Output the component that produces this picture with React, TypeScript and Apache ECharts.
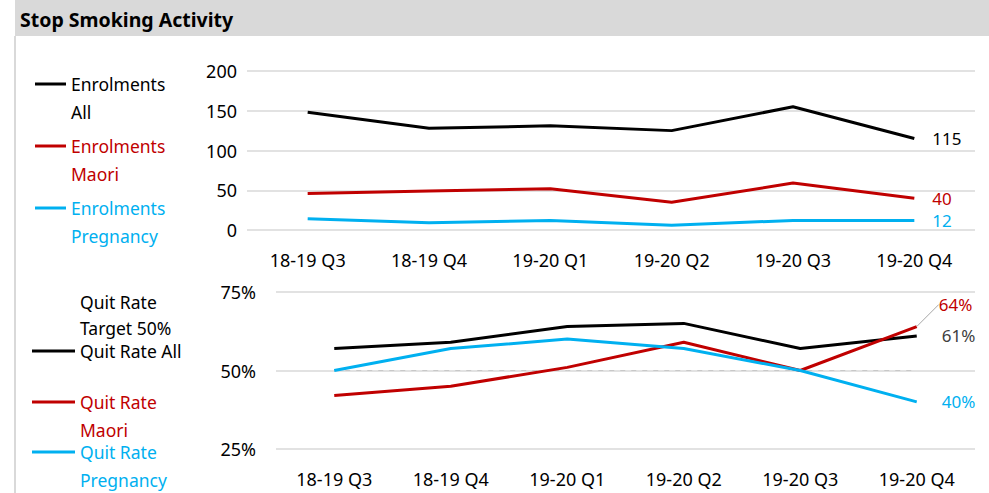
import React, { useEffect, useRef } from "react";
import * as echarts from "echarts";

const categories = ["18-19 Q3", "18-19 Q4", "19-20 Q1", "19-20 Q2", "19-20 Q3", "19-20 Q4"];
const enrolAll = [148, 128, 131, 125, 155, 115];
const enrolMaori = [46, 49, 52, 35, 59, 40];
const enrolPreg = [14, 9, 12, 6, 12, 12];
const quitTarget = [50, 50, 50, 50, 50, 50];
const quitAll = [57, 59, 64, 65, 57, 61];
const quitMaori = [42, 45, 51, 59, 50, 64];
const quitPreg = [50, 57, 60, 57, 50, 40];
const enrolTicks = { min: 0, max: 200, interval: 50 };
const quitTicks = { min: 25, max: 75, interval: 25 };

const FONT = "Noto Sans";
const BLACK = "#000000";
const RED = "#c00000";
const BLUE = "#00b0f0";
const GRID = "#d9d9d9";

function lastLabel(values: number[], label: any) {
  return values.map((v, i) =>
    i === values.length - 1 ? { value: v, label: { show: true, fontSize: 17, fontFamily: FONT, ...label } } : v
  );
}

function legendItem(
  name: string,
  text: string,
  left: number,
  top: number,
  color: string,
  itemWidth: number,
  hide = false,
  lineHeight = 28
) {
  const twoLine = text.includes("\n");
  const item: any = { name, icon: "rect" };
  if (hide) item.itemStyle = { opacity: 0, color: "transparent" };
  return {
    data: [item],
    left,
    top,
    orient: "vertical",
    padding: 0,
    itemWidth,
    itemHeight: 3,
    selectedMode: false,
    formatter: () => (twoLine ? " \n" + text : text),
    textStyle: {
      color,
      fontSize: 17.5,
      fontFamily: FONT,
      lineHeight,
    },
  };
}

function lineSeries(name: string, data: any[], color: string, idx: number, extra: any = {}) {
  return {
    name,
    type: "line",
    xAxisIndex: idx,
    yAxisIndex: idx,
    data,
    symbol: "circle",
    symbolSize: 0.01,
    showSymbol: true,
    lineStyle: { color, width: 3 },
    itemStyle: { color },
    emphasis: { disabled: true },
    label: { show: false },
    ...extra,
  };
}

export default function App() {
  const ref = useRef<HTMLDivElement>(null);
  useEffect(() => {
    const chart = echarts.init(ref.current!, undefined, { renderer: "svg" });
    const axisLabel = { color: BLACK, fontSize: 18, fontFamily: FONT };
    const pct = "{c}%";
    chart.setOption({
      animation: false,
      graphic: [
        { type: "rect", shape: { x: 15, y: 0, width: 974, height: 36 }, style: { fill: GRID }, silent: true },
        { type: "line", shape: { x1: 15, y1: 36, x2: 15, y2: 493 }, style: { stroke: GRID, lineWidth: 2 }, silent: true },
        {
          type: "text",
          x: 20,
          y: 19,
          style: { text: "Stop Smoking Activity", fontSize: 19.5, fontWeight: "bold", fontFamily: FONT, fill: BLACK, verticalAlign: "middle" },
          silent: true,
        },
      ],
      legend: [
        legendItem("Enrolments All", "Enrolments\nAll", 35, 42, BLACK, 31),
        legendItem("Enrolments Maori", "Enrolments\nMaori", 35, 104, RED, 31),
        legendItem("Enrolments Pregnancy", "Enrolments\nPregnancy", 35, 166, BLUE, 31),
        legendItem("Quit Rate Target 50%", "Quit Rate\nTarget 50%", 32, 263, BLACK, 43, true, 26),
        legendItem("Quit Rate All", "Quit Rate All", 32, 341, BLACK, 43, false, 20),
        legendItem("Quit Rate Maori", "Quit Rate\nMaori", 32, 360, RED, 43),
        legendItem("Quit Rate Pregnancy", "Quit Rate\nPregnancy", 32, 410, BLUE, 43),
      ],
      grid: [
        { left: 247, right: 14, top: 71, height: 159 },
        { left: 276, right: 14, top: 292, height: 157 },
      ],
      xAxis: [0, 1].map((i) => ({
        type: "category",
        gridIndex: i,
        data: categories,
        boundaryGap: true,
        axisLine: { show: false },
        axisTick: { show: false },
        axisLabel: { ...axisLabel, margin: 21 },
      })),
      yAxis: [
        {
          type: "value",
          gridIndex: 0,
          ...enrolTicks,
          axisLine: { show: false },
          axisTick: { show: false },
          splitLine: { lineStyle: { color: GRID, width: 1.5 } },
          axisLabel: { ...axisLabel, margin: 10 },
        },
        {
          type: "value",
          gridIndex: 1,
          ...quitTicks,
          axisLine: { show: false },
          axisTick: { show: false },
          splitLine: { lineStyle: { color: GRID, width: 1.5 } },
          axisLabel: { ...axisLabel, margin: 20, formatter: "{value}%" },
        },
      ],
      series: [
        lineSeries("Enrolments All", lastLabel(enrolAll, { position: "right", distance: 18, color: BLACK }), BLACK, 0),
        lineSeries("Enrolments Maori", lastLabel(enrolMaori, { position: "right", distance: 18, color: RED }), RED, 0),
        lineSeries("Enrolments Pregnancy", lastLabel(enrolPreg, { position: "right", distance: 18, color: BLUE }), BLUE, 0),
        lineSeries("Quit Rate Target 50%", quitTarget, "#c8c8c8", 1, {
          lineStyle: { color: "#c8c8c8", width: 1, type: [5, 6] },
          z: 1,
        }),
        lineSeries("Quit Rate All", lastLabel(quitAll, { position: "right", distance: 25, color: "#404040", formatter: pct }), BLACK, 1),
        lineSeries(
          "Quit Rate Maori",
          lastLabel(quitMaori, { position: "right", distance: 4, color: RED, formatter: pct }),
          RED,
          1,
          {
            labelLayout: { dx: 18, dy: -22 },
            labelLine: { show: true, lineStyle: { color: "#a6a6a6", width: 1 } },
          }
        ),
        lineSeries("Quit Rate Pregnancy", lastLabel(quitPreg, { position: "right", distance: 25, color: BLUE, formatter: pct }), BLUE, 1),
      ],
    });
    return () => chart.dispose();
  }, []);
  return <div ref={ref} style={{ position: "fixed", left: 0, top: 0, width: 989, height: 493, background: "#fff" }} />;
}
